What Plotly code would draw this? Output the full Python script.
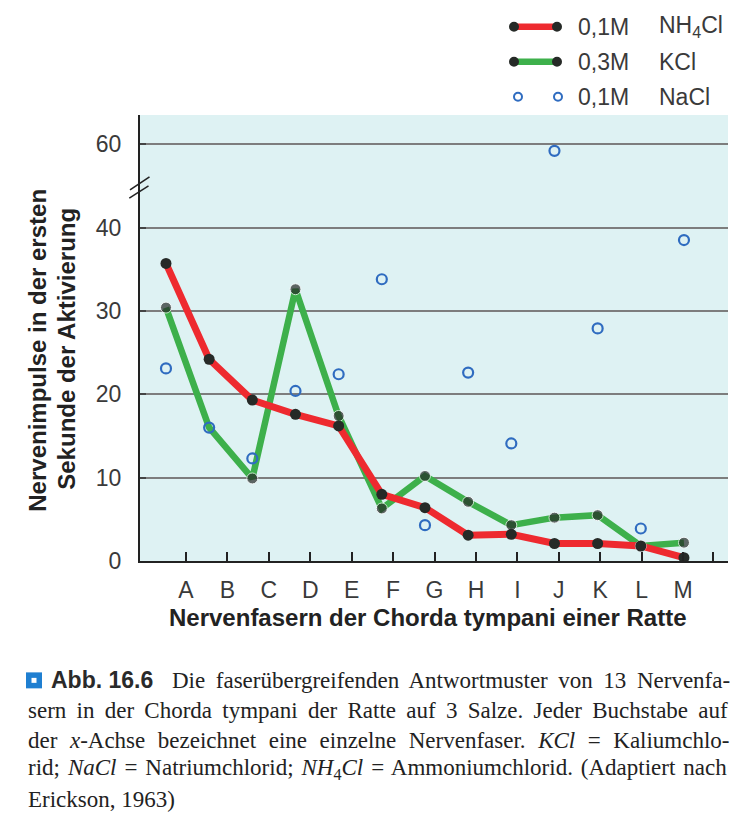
import plotly.graph_objects as go

# ---------------- data ----------------
fibers = ["A", "B", "C", "D", "E", "F", "G", "H", "I", "J", "K", "L", "M"]
nh4cl = [35.7, 24.2, 19.3, 17.6, 16.2, 8.0, 6.4, 3.1, 3.2, 2.1, 2.1, 1.8, 0.4]
kcl = [30.4, 16.0, 9.9, 32.6, 17.4, 6.3, 10.2, 7.1, 4.3, 5.2, 5.5, 1.8, 2.2]
nacl = [23.1, 16.0, 12.3, 20.4, 22.4, 33.8, 4.3, 22.6, 14.1, 59.2, 27.9, 3.9, 38.5]
y_tick_values = [0, 10, 20, 30, 40, 60]

legend_conc = ["0,1M", "0,3M", "0,1M"]
legend_salt = ["NH<sub>4</sub>Cl", "KCl", "NaCl"]

# ---------------- broken y-axis mapping ----------------
BREAK_AT = 45     # values above this are drawn above the axis break
BREAK_GAP = 10    # amount of value range removed by the break


def axis_y(v):
    return v if v < BREAK_AT else v - BREAK_GAP


idx = list(range(len(fibers)))

# page has an 8px body margin; the figure is sized to fit the window
OFF = 8
WIN_W, WIN_H = 745, 835
W, H = WIN_W - OFF, WIN_H - OFF
L, R, T, B = 140, 728, 115, 561.5   # plot area in window pixels


def px(xp):
    return (xp - L) / (R - L)


def py(yp):
    return (B - yp) / (B - T)


RED = "#ee2a2f"
GREEN = "#3db04b"
DOT = "#262a27"
BLUE = "#2f6cc0"
TXT = "#3a3a3a"

fig = go.Figure()

fig.add_trace(go.Scatter(x=idx, y=[axis_y(v) for v in kcl], mode="lines",
                         line=dict(color=GREEN, width=6.5), showlegend=False,
                         hoverinfo="skip"))
fig.add_trace(go.Scatter(x=idx, y=[axis_y(v) for v in nh4cl], mode="lines",
                         line=dict(color=RED, width=7), showlegend=False,
                         hoverinfo="skip"))
kcl_marker_sizes = [11, 0] + [11] * (len(fibers) - 2)
fig.add_trace(go.Scatter(x=idx, y=[axis_y(v) for v in kcl], mode="markers",
                         marker=dict(color=DOT, size=kcl_marker_sizes),
                         showlegend=False))
fig.add_trace(go.Scatter(x=idx, y=[axis_y(v) for v in nh4cl], mode="markers",
                         marker=dict(color=DOT, size=11), showlegend=False))
fig.add_trace(go.Scatter(x=idx, y=[axis_y(v) for v in nacl], mode="markers",
                         marker=dict(symbol="circle-open", color=BLUE, size=10,
                                     line=dict(width=2.2, color=BLUE)),
                         showlegend=False))
# invisible helper so the label axis is drawn
fig.add_trace(go.Scatter(x=[0], y=[0], xaxis="x2", mode="markers",
                         marker=dict(opacity=0), showlegend=False,
                         hoverinfo="skip"))

shapes = []
# axis break marks
for (x0, y0, x1, y1) in [(130, 190, 149.5, 177), (129.3, 198.3, 148.5, 186)]:
    shapes.append(dict(type="line", xref="paper", yref="paper",
                       x0=px(x0), y0=py(y0), x1=px(x1), y1=py(y1),
                       line=dict(color="#222222", width=1.5)))

annotations = []
# legend
leg_y = [26.7, 61.7, 96.7]
leg_colors = [RED, GREEN, None]
for i, yy in enumerate(leg_y):
    if leg_colors[i]:
        shapes.append(dict(type="line", xref="paper", yref="paper",
                           x0=px(514), x1=px(557), y0=py(yy), y1=py(yy),
                           line=dict(color=leg_colors[i], width=6.5)))
        for cx in (514, 557):
            shapes.append(dict(type="circle", xref="paper", yref="paper",
                               x0=px(cx - 5), x1=px(cx + 5),
                               y0=py(yy + 5), y1=py(yy - 5),
                               fillcolor=DOT, line=dict(width=0)))
    else:
        for cx in (518, 558):
            shapes.append(dict(type="circle", xref="paper", yref="paper",
                               x0=px(cx - 4), x1=px(cx + 4),
                               y0=py(yy + 4), y1=py(yy - 4),
                               fillcolor="rgba(0,0,0,0)",
                               line=dict(width=2, color=BLUE)))
    annotations.append(dict(xref="paper", yref="paper", x=px(576), y=py(yy),
                            xanchor="left", yanchor="middle", showarrow=False,
                            text=legend_conc[i],
                            font=dict(family="Liberation Sans", size=23, color=TXT)))
    annotations.append(dict(xref="paper", yref="paper", x=px(657), y=py(yy),
                            xanchor="left", yanchor="middle", showarrow=False,
                            text=legend_salt[i],
                            font=dict(family="Liberation Sans", size=23, color=TXT)))

# axis titles
TITLE_FONT = dict(family="Liberation Sans", size=24, color="#222222", weight="bold")
annotations.append(dict(xref="paper", yref="paper", x=px(38), y=py(351),
                        xanchor="center", yanchor="middle", showarrow=False,
                        textangle=-90, text="Nervenimpulse in der ersten",
                        font=TITLE_FONT))
annotations.append(dict(xref="paper", yref="paper", x=px(67), y=py(349),
                        xanchor="center", yanchor="middle", showarrow=False,
                        textangle=-90, text="Sekunde der Aktivierung",
                        font=TITLE_FONT))
annotations.append(dict(xref="paper", yref="paper", x=px(428), y=py(618),
                        xanchor="center", yanchor="middle", showarrow=False,
                        text="Nervenfasern der Chorda tympani einer Ratte",
                        font=TITLE_FONT))

# caption
shapes.append(dict(type="rect", xref="paper", yref="paper",
                   x0=px(26), x1=px(42), y0=py(673), y1=py(689),
                   fillcolor="#1f7fd1", line=dict(width=0)))
shapes.append(dict(type="rect", xref="paper", yref="paper",
                   x0=px(31.5), x1=px(36.5), y0=py(678.5), y1=py(683.5),
                   fillcolor="white", line=dict(width=0)))
annotations.append(dict(xref="paper", yref="paper", x=px(49), y=py(681),
                        xanchor="left", yanchor="middle", showarrow=False,
                        text="Abb. 16.6",
                        font=dict(family="Liberation Sans", size=23, color="#2a2a2a",
                                  weight="bold")))
caption_lines = [
    (170, 681, 4.8, "Die faserübergreifenden Antwortmuster von 13 Nervenfa-"),
    (26, 711, 4.5, "sern in der Chorda tympani der Ratte auf 3 Salze. Jeder Buchstabe auf"),
    (26, 741, 6.8, "der <i>x</i>-Achse bezeichnet eine einzelne Nervenfaser. <i>KCl</i> = Kaliumchlo-"),
    (26, 770, 2.2, "rid; <i>NaCl</i> = Natriumchlorid; <i>NH</i><sub>4</sub><i>Cl</i> = Ammoniumchlorid. (Adaptiert nach"),
    (26, 800, 0, "Erickson, 1963)"),
]
for (x0, y0, ws, t) in caption_lines:
    txt = t if ws == 0 else '<span style="word-spacing:%.1fpx">%s</span>' % (ws, t)
    annotations.append(dict(xref="paper", yref="paper", x=px(x0), y=py(y0),
                            xanchor="left", yanchor="middle", showarrow=False,
                            text=txt,
                            font=dict(family="Liberation Serif", size=23, color="#222222")))

fig.update_layout(
    width=W, height=H,
    margin=dict(l=L - OFF, r=WIN_W - R, t=T - OFF, b=WIN_H - B, pad=0),
    paper_bgcolor="white",
    plot_bgcolor="#def2f3",
    showlegend=False,
    shapes=shapes,
    annotations=annotations,
    xaxis=dict(range=[-0.602, 13.02], visible=False, fixedrange=True),
    xaxis2=dict(overlaying="x", anchor="y", side="bottom",
                range=[-1.111, 13.085],
                tickvals=list(range(len(fibers))) + [12.73],
                ticktext=fibers + [""],
                ticks="inside", ticklen=9, tickwidth=1.5, tickcolor="#222222",
                showline=True, linecolor="#222222", linewidth=2,
                showgrid=False, zeroline=False,
                ticklabelstandoff=7,
                tickfont=dict(family="Liberation Sans", size=23, color=TXT)),
    yaxis=dict(range=[0, 53.5],
               tickvals=[axis_y(v) for v in y_tick_values],
               ticktext=[str(v) for v in y_tick_values],
               ticks="inside", ticklen=6, tickwidth=1.5, tickcolor="#444444",
               showline=True, linecolor="#222222", linewidth=2,
               showgrid=True, gridcolor="#7d7d7d", gridwidth=1.5,
               zeroline=False, ticklabelstandoff=12,
               tickfont=dict(family="Liberation Sans", size=23, color=TXT)),
)

fig.write_html("out.html")
